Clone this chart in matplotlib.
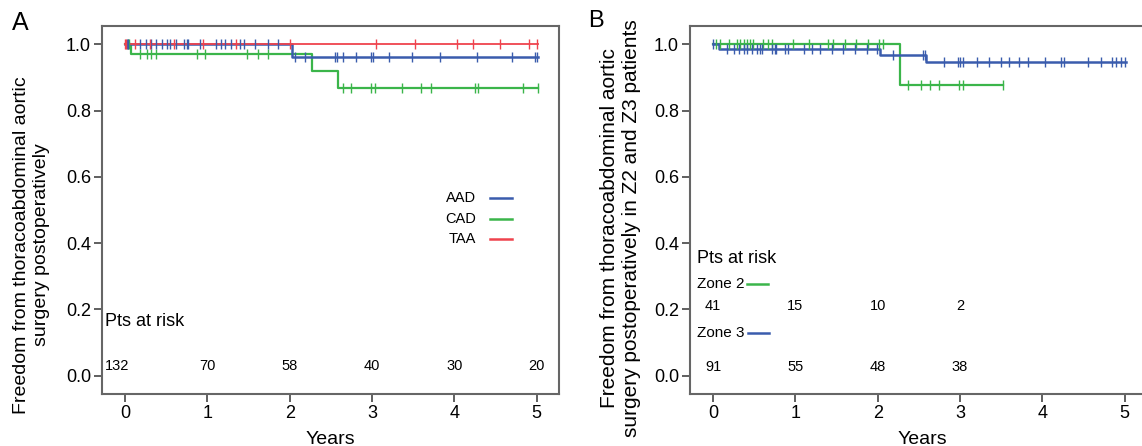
import matplotlib
matplotlib.use("Agg")
import matplotlib.pyplot as plt
import numpy as np

matplotlib.rcParams['font.family'] = ['Liberation Sans', 'DejaVu Sans']

BLUE = '#3a5cad'
GREEN = '#3bb54a'
RED = '#ef434d'

# ---- panel A: survival steps (years, survival) ----
aad_t = [0, 2.03, 5.02]
aad_s = [1.0, 0.963, 0.963]
cad_t = [0, 0.07, 2.27, 2.59, 5.02]
cad_s = [1.0, 0.97, 0.92, 0.867, 0.867]
taa_t = [0, 5.02]
taa_s = [1.0, 1.0]

# censor marks
aad_cens = [0.02, 0.04, 0.18, 0.26, 0.32, 0.38, 0.45, 0.51, 0.55, 0.62, 0.71, 0.75,
            0.77, 0.91, 1.10, 1.17, 1.21, 1.29, 1.40, 1.44, 1.58, 1.74, 1.86,
            2.06, 2.18, 2.55, 2.57, 2.65, 2.81, 2.99, 3.01, 3.21, 3.49, 3.82,
            4.28, 4.70, 4.98, 5.0]
cad_cens = [0.03, 0.05, 0.18, 0.27, 0.32, 0.38, 0.87, 0.97, 1.48, 1.62, 1.74,
            2.65, 2.75, 2.99, 3.03, 3.36, 3.60, 3.71, 4.25, 4.29, 4.83, 5.02]
taa_cens = [0.0, 0.01, 0.12, 0.30, 0.60, 0.95, 1.35, 2.0, 3.05, 3.52, 4.03, 4.23,
            4.55, 4.90, 5.0]

a_risk_x = [0, 1, 2, 3, 4, 5]
a_risk = ['132', '70', '58', '40', '30', '20']

# ---- panel B ----
z2_t = [0, 2.27, 3.52]
z2_s = [1.0, 0.876, 0.876]
z3_t = [0, 0.07, 2.03, 2.59, 5.02]
z3_s = [1.0, 0.987, 0.967, 0.945, 0.945]

z2_cens = [0.04, 0.08, 0.19, 0.29, 0.33, 0.37, 0.41, 0.45, 0.49, 0.61, 0.67, 0.71,
           0.97, 1.16, 1.40, 1.46, 1.60, 1.74, 1.88, 2.01, 2.07,
           2.37, 2.53, 2.63, 2.75, 2.99, 3.04, 3.52]
z3_cens = [0.0, 0.17, 0.25, 0.31, 0.37, 0.41, 0.47, 0.53, 0.57, 0.59, 0.71, 0.75,
           0.77, 0.87, 0.91, 1.10, 1.20, 1.30, 1.44, 1.58, 1.72, 1.87, 1.99,
           2.19, 2.55, 2.57, 2.81, 2.98, 3.00, 3.03, 3.20, 3.35, 3.50, 3.60,
           3.71, 3.83, 4.03, 4.23, 4.26, 4.56, 4.71, 4.84, 4.89, 4.95, 5.0]

b_risk_x = [0, 1, 2, 3]
z2_risk = ['41', '15', '10', '2']
z3_risk = ['91', '55', '48', '38']


def surv_at(times, surv, t):
    idx = np.searchsorted(times, t, side='right') - 1
    return np.asarray(surv)[idx]


def km(ax, times, surv, cens, color, lw):
    ax.step(times, surv, where='post', color=color, lw=lw, zorder=3)
    ax.plot(cens, surv_at(times, surv, cens), ls='none', marker='|',
            ms=7, mew=1.0, color=color, zorder=4)


def style(ax, xlim):
    ax.set_xlim(*xlim)
    ax.set_ylim(-0.055, 1.055)
    ax.set_xticks([0, 1, 2, 3, 4, 5])
    ax.set_yticks([0, 0.2, 0.4, 0.6, 0.8, 1.0])
    ax.set_yticklabels(['0.0', '0.2', '0.4', '0.6', '0.8', '1.0'])
    ax.tick_params(labelsize=13, length=6, width=1.2, color='#444444', pad=2)
    for sp in ax.spines.values():
        sp.set_color('#666666')
        sp.set_linewidth(1.5)
    ax.set_xlabel('Years', fontsize=14, labelpad=0)


fig = plt.figure(figsize=(11.42, 4.46), dpi=100)

# =========================
# PANEL A
# =========================
ax1 = fig.add_axes([102 / 1142, 52 / 446, 457 / 1142, 368 / 446])
km(ax1, cad_t, cad_s, cad_cens, GREEN, 1.6)
km(ax1, aad_t, aad_s, aad_cens, BLUE, 1.8)
km(ax1, taa_t, taa_s, taa_cens, RED, 1.3)
style(ax1, (-0.28, 5.27))
ax1.set_ylabel('Freedom from thoracoabdominal aortic\nsurgery postoperatively', fontsize=14)
ax1.yaxis.set_label_coords(-0.114, 0.405)
ax1.xaxis.set_label_coords(0.5, -0.1)

# manual legend
for lab, col, y in [('AAD', BLUE, 0.535), ('CAD', GREEN, 0.474), ('TAA', RED, 0.414)]:
    ax1.text(4.26, y, lab, ha='right', va='center', fontsize=10.5)
    ax1.plot([4.43, 4.70], [y, y], color=col, lw=1.8)

ax1.text(-0.24, 0.164, 'Pts at risk', ha='left', va='center', fontsize=13)
for x, r in zip(a_risk_x, a_risk):
    if x == 0:
        ax1.text(-0.24, 0.028, r, ha='left', va='center', fontsize=10.5)
    else:
        ax1.text(x, 0.028, r, ha='center', va='center', fontsize=10.5)

# =========================
# PANEL B
# =========================
ax2 = fig.add_axes([690 / 1142, 52 / 446, 452 / 1142, 368 / 446])
km(ax2, z2_t, z2_s, z2_cens, GREEN, 1.6)
km(ax2, z3_t, z3_s, z3_cens, BLUE, 1.8)
style(ax2, (-0.28, 5.21))
ax2.spines['right'].set_visible(False)
ax2.set_ylabel('Freedom from thoracoabdominal aortic\nsurgery postoperatively in Z2 and Z3 patients',
               fontsize=15)
ax2.yaxis.set_label_coords(-0.108, 0.45)
ax2.xaxis.set_label_coords(0.515, -0.1)

ax2.text(-0.19, 0.355, 'Pts at risk', ha='left', va='center', fontsize=13)
ax2.text(-0.19, 0.277, 'Zone 2', ha='left', va='center', fontsize=11)
ax2.plot([0.41, 0.67], [0.277, 0.277], color=GREEN, lw=1.8)
ax2.text(-0.19, 0.13, 'Zone 3', ha='left', va='center', fontsize=11)
ax2.plot([0.42, 0.68], [0.13, 0.13], color=BLUE, lw=1.8)
for x, r in zip(b_risk_x, z2_risk):
    ax2.text(x, 0.209, r, ha='center', va='center', fontsize=10.5)
for x, r in zip(b_risk_x, z3_risk):
    ax2.text(x, 0.027, r, ha='center', va='center', fontsize=10.5)

fig.text(12 / 1142, 1 - 11 / 446, 'A', fontsize=18, ha='left', va='top')
fig.text(588 / 1142, 1 - 10 / 446, 'B', fontsize=17, ha='left', va='top')

fig.savefig('out.png', dpi=100)
